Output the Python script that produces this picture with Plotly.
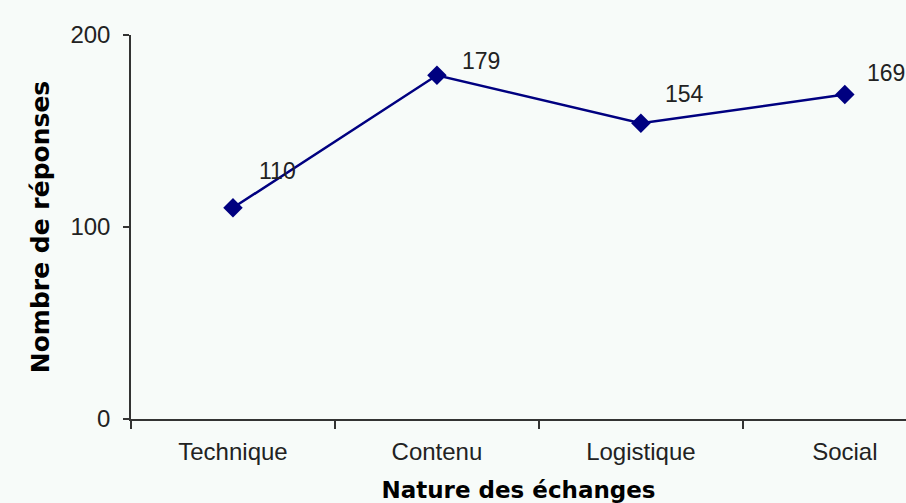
import plotly.graph_objects as go

categories = ["Technique", "Contenu", "Logistique", "Social"]
reponses = [110, 179, 154, 169]

# label offsets (pixels) as placed in the original
label_dx = [24, 23, 22, 20]
label_dy = [37, 14, 29, 22]

navy = "#000080"
bg = "#F7FBF9"

fig = go.Figure()
fig.add_trace(go.Scatter(
    x=categories, y=reponses, mode="lines+markers",
    line=dict(color=navy, width=2.5),
    marker=dict(symbol="diamond", size=15, color=navy),
    showlegend=False,
))

for c, v, dx, dy in zip(categories, reponses, label_dx, label_dy):
    fig.add_annotation(x=c, y=v, text=str(v), showarrow=False,
                       xanchor="left", yanchor="middle", xshift=dx, yshift=dy,
                       font=dict(family="Liberation Sans, Arial", size=23, color="#222"))

fig.update_layout(
    width=906, height=503,
    margin=dict(l=131, r=0, t=35, b=84),
    paper_bgcolor=bg, plot_bgcolor=bg,
    font=dict(family="Liberation Sans, Arial", size=24, color="#222"),
)
fig.update_xaxes(
    type="category", range=[-0.5, 3.3],
    showline=True, linecolor="#333", linewidth=1.5,
    ticks="outside", tickson="boundaries", ticklen=8, tickcolor="#333", tickwidth=1.5,
    ticklabelstandoff=10,
    showgrid=False, zeroline=False,
    title=dict(text="<b>Nature des échanges</b>",
               font=dict(family="DejaVu Sans", size=23, color="#000"), standoff=18),
)
fig.update_yaxes(
    range=[0, 200], tickvals=[0, 100, 200],
    showline=True, linecolor="#333", linewidth=1.5,
    ticks="outside", ticklen=6, tickcolor="#333", tickwidth=1.5,
    ticklabelstandoff=8,
    showgrid=False, zeroline=False,
    title=dict(text="<b>Nombre de réponses</b>",
               font=dict(family="DejaVu Sans", size=25, color="#000"), standoff=14),
)

fig.write_html("out.html", config={"displayModeBar": False},
               post_script="document.body.style.margin='0px';")
